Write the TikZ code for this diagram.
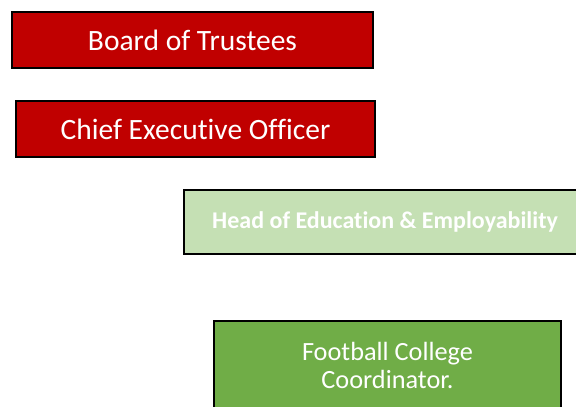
\documentclass[tikz,border=0pt]{standalone}
\usepackage{fontspec}
\setmainfont{Carlito}[Ligatures=NoCommon]
\definecolor{boardred}{HTML}{C00000}
\definecolor{paleGreen}{HTML}{C5E0B4}
\definecolor{midGreen}{HTML}{70AD47}
\tikzset{
    postbox/.style={shape=rectangle,draw=black,line width=1.5pt,text=white,align=center,inner sep=0pt},
}
\begin{document}
\begin{tikzpicture}[x=1pt,y=-1pt]
    \useasboundingbox (0,0) rectangle (576,407);
    \node[postbox,fill=boardred,minimum width=361pt,minimum height=56pt,font=\fontsize{29.5}{34}\selectfont] (Board) at (192.5,40) {Board of Trustees};
    \node[postbox,fill=boardred,minimum width=359pt,minimum height=56pt,font=\fontsize{29.5}{34}\selectfont] (CEO) at (195.5,129) {Chief Executive Officer};
    \node[postbox,fill=paleGreen,minimum width=402pt,minimum height=64pt,font=\fontsize{24}{28}\selectfont\bfseries] (Head) at (385,222) {Head of Education \& Employability};
    \node[postbox,fill=midGreen,minimum width=347pt,minimum height=88pt,font=\fontsize{26.3}{28}\selectfont] (Football) at (387.5,365) {Football College\\Coordinator.};
\end{tikzpicture}
\end{document}
